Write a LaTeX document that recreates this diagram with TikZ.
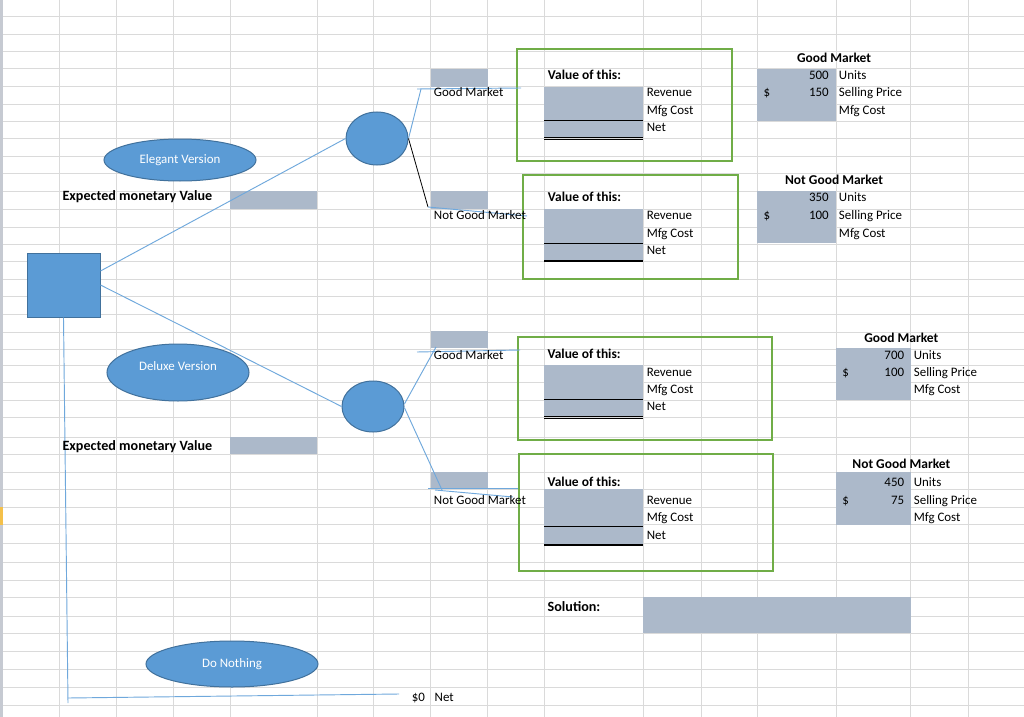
\documentclass[tikz,border=0pt]{standalone}
\usepackage{fontspec}
\setmainfont{Carlito}
\usepackage{xcolor}
\usetikzlibrary{positioning,shapes.geometric}

\definecolor{gridgray}{HTML}{DADADA}
\definecolor{headgray}{HTML}{C6CAD2}
\definecolor{selyellow}{HTML}{F4C04A}
\definecolor{cellgray}{HTML}{ACB9CA}
\definecolor{boxgreen}{HTML}{70AD47}
\definecolor{shapeblue}{HTML}{5B9BD5}
\definecolor{shapeedge}{HTML}{41719C}
\definecolor{lineblue}{HTML}{6FA8DC}

\newcommand{\cellfont}{\fontsize{9.7}{11}\selectfont}
\newcommand{\boldfont}{\fontsize{10.1}{11}\selectfont\bfseries}
\newcommand{\bigboldfont}{\fontsize{10.6}{12}\selectfont\bfseries}

\begin{document}
\begin{tikzpicture}[x=0.75pt,y=-0.75pt,font=\cellfont,
    boxsize/.style 2 args={minimum width=#1*0.75pt,minimum height=#2*0.75pt},
    txt/.style={inner sep=0pt,anchor=base west},
    num/.style={inner sep=0pt,anchor=base east},
    boldtxt/.style={txt,font=\boldfont},
    bigtxt/.style={txt,font=\bigboldfont},
    head/.style={inner sep=0pt,anchor=base,font=\boldfont},
    gridline/.style={draw=gridgray,line width=0.75pt},
    shade/.style={fill=cellgray},
    frame/.style={draw=boxgreen,line width=1.2pt},
    branch/.style={draw=lineblue,line width=0.7pt},
    rule/.style={draw=black,line width=0.6pt},
    decision/.style={rectangle,fill=shapeblue,draw=shapeedge,line width=0.75pt,inner sep=0pt},
    chance/.style={ellipse,fill=shapeblue,draw=shapeedge,line width=0.75pt,inner sep=0pt},
    oval/.style={ellipse,fill=shapeblue,draw=shapeedge,line width=0.75pt,inner sep=0pt,text=white}]

    % Sheet background
    \fill[white] (0,0) rectangle (1024,717);
    \useasboundingbox (0,0) rectangle (1024,717);
    \foreach \gx in {59,116,173,230,317,373,430,487,544,643,701,757,836,910,968}
        \draw[gridline] (\gx,0) -- (\gx,717);
    \foreach \gy in {17,35,52,69,87,104,121,138,156,173,191,209,227,244,261,279,296,314,332,349,365,382,400,417,437,454,472,489,507,524,543,562,580,597,616,633,651,669,687,705}
        \draw[gridline] (0,\gy) -- (1024,\gy);
    \fill[headgray] (0,0) rectangle (3,717);
    \fill[selyellow] (0,507) rectangle (3,525);

    % Shaded cells
    \fill[shade] (431,69) rectangle (488,87);
    \fill[shade] (431,191) rectangle (488,209);
    \fill[shade] (431,331) rectangle (488,348);
    \fill[shade] (431,472) rectangle (488,489);
    \fill[shade] (230,191) rectangle (317,209);
    \fill[shade] (230,437) rectangle (317,454);
    \fill[shade] (544,87) rectangle (643,138);
    \fill[shade] (544,209) rectangle (643,261);
    \fill[shade] (544,365) rectangle (643,417);
    \fill[shade] (544,489) rectangle (643,544);
    \fill[shade] (757,69) rectangle (836,121);
    \fill[shade] (757,191) rectangle (836,243);
    \fill[shade] (836,348) rectangle (911,400);
    \fill[shade] (836,472) rectangle (911,525);
    \fill[shade] (643,597) rectangle (911,633);

    % Underlines of the value blocks
    \draw[rule] (544,120) -- (643,120);
    \draw[rule] (544,137.2) -- (643,137.2);
    \draw[rule] (544,139.4) -- (643,139.4);
    \draw[rule] (544,243) -- (643,243);
    \draw[rule,line width=1.5pt] (544,261) -- (643,261);
    \draw[rule] (544,399) -- (643,399);
    \draw[rule] (544,416.4) -- (643,416.4);
    \draw[rule] (544,418.6) -- (643,418.6);
    \draw[rule] (544,526) -- (643,526);
    \draw[rule,line width=1.5pt] (544,544.5) -- (643,544.5);

    % Green frames
    \draw[frame] (517,49) rectangle (732,161);
    \draw[frame] (523,175) rectangle (738,279);
    \draw[frame] (518,337) rectangle (772,440);
    \draw[frame] (519,454) rectangle (773,571);

    % Tree shapes
    \node[decision,boxsize={73}{64}] (dec) at (63.5,285) {};
    \node[chance,boxsize={62}{53}] (chup) at (377,138.5) {};
    \node[chance,boxsize={62}{51}] (chlow) at (373,406.5) {};
    \node[oval,boxsize={152}{42}] (ovelegant) at (180,160) {Elegant Version};
    \node[oval,boxsize={142}{57},label={[text=white,yshift=4.9pt]center:Deluxe Version}] (ovdeluxe) at (178,372.5) {};
    \node[oval,boxsize={172}{46}] (ovnothing) at (232,664) {Do Nothing};

    % Branch ends
    \coordinate (upgm) at (421,89);
    \coordinate (upgml) at (417,89);
    \coordinate (upgmr) at (521,88);
    \coordinate (upngm) at (428,207);
    \coordinate (upngmr) at (527,216);
    \coordinate (lowgm) at (436,347);
    \coordinate (lowgml) at (417,352);
    \coordinate (lowgmr) at (520,350);
    \coordinate (lowngm) at (442,490);
    \coordinate (lowngml) at (428,488);
    \coordinate (lowngmr) at (518,488);
    \coordinate (lowngmt) at (435,490);
    \coordinate (lowngmu) at (513,497);
    \coordinate (dnfoot) at (68,703);
    \coordinate (dnbend) at (68,698);
    \coordinate (dnend) at (399,694);

    % Branches
    \draw[branch] ([yshift=10.5pt]dec.east) -- (chup.west);
    \draw[branch] (dec.east) -- (chlow.west);
    \draw[branch] (dec.south) -- (dnfoot);
    \draw[branch] (dnbend) -- (dnend);
    \draw[branch] (chup.east) -- (upgm);
    \draw[branch] (upgml) -- (upgmr);
    \draw[black,line width=0.6pt] (chup.east) -- (upngm);
    \draw[branch] (upngm) -- (upngmr);
    \draw[branch] ([yshift=2pt]chlow.east) -- (lowgm);
    \draw[branch] (lowgml) -- (lowgmr);
    \draw[branch] ([yshift=-1pt]chlow.east) -- (lowngm);
    \draw[branch] (lowngml) -- (lowngmr);
    \draw[branch] (lowngmt) -- (lowngmu);

    % Left labels
    \node[bigtxt] (emvup) at (62.3,200.8) {Expected monetary Value};
    \node[bigtxt] (emvlow) at (62.3,450) {Expected monetary Value};
    \node[txt] (zero) at (411.5,701) {\$0};
    \node[txt] (zeronet) at (434.4,701) {Net};

    % Elegant, good market
    \node[txt] (brup1) at (433.7,97) {Good Market};
    \node[boldtxt] (val1) at (547.7,79.3) {Value of this:};
    \node[txt] (rev1) at (646.5,97) {Revenue};
    \node[txt] (mfg1) at (646.5,114) {Mfg Cost};
    \node[txt] (net1) at (646.5,131) {Net};
    \node[head] (mkt1) at (834,62.5) {Good Market};
    \node[num] (units1) at (829,79.3) {500};
    \node[txt] (unitsl1) at (838.7,79.3) {Units};
    \node[txt] (dol1) at (763.3,97) {\$};
    \node[num] (price1) at (829,97) {150};
    \node[txt] (pricel1) at (838.7,97) {Selling Price};
    \node[txt] (mfgl1) at (838.7,114) {Mfg Cost};

    % Elegant, not good market
    \node[txt] (brup2) at (433.7,219.5) {Not Good Market};
    \node[boldtxt] (val2) at (547.7,201) {Value of this:};
    \node[txt] (rev2) at (646.5,219.5) {Revenue};
    \node[txt] (mfg2) at (646.5,237) {Mfg Cost};
    \node[txt] (net2) at (646.5,254) {Net};
    \node[head] (mkt2) at (834,184) {Not Good Market};
    \node[num] (units2) at (829,201) {350};
    \node[txt] (unitsl2) at (838.7,201) {Units};
    \node[txt] (dol2) at (763.3,219.5) {\$};
    \node[num] (price2) at (829,219.5) {100};
    \node[txt] (pricel2) at (838.7,219.5) {Selling Price};
    \node[txt] (mfgl2) at (838.7,237) {Mfg Cost};

    % Deluxe, good market
    \node[txt] (brlow1) at (433.7,359) {Good Market};
    \node[boldtxt] (val3) at (547.3,358.5) {Value of this:};
    \node[txt] (rev3) at (646.5,376) {Revenue};
    \node[txt] (mfg3) at (646.5,393) {Mfg Cost};
    \node[txt] (net3) at (646.5,410) {Net};
    \node[head] (mkt3) at (901.3,342) {Good Market};
    \node[num] (units3) at (904.4,359) {700};
    \node[txt] (unitsl3) at (913.6,359) {Units};
    \node[txt] (dol3) at (842,376) {\$};
    \node[num] (price3) at (904.4,376) {100};
    \node[txt] (pricel3) at (913.6,376) {Selling Price};
    \node[txt] (mfgl3) at (913.6,393) {Mfg Cost};

    % Deluxe, not good market
    \node[txt] (brlow2) at (433.7,504) {Not Good Market};
    \node[boldtxt] (val4) at (547.3,486.5) {Value of this:};
    \node[txt] (rev4) at (646.5,504) {Revenue};
    \node[txt] (mfg4) at (646.5,521.5) {Mfg Cost};
    \node[txt] (net4) at (646.5,539.5) {Net};
    \node[head] (mkt4) at (901.3,468) {Not Good Market};
    \node[num] (units4) at (904.4,486.5) {450};
    \node[txt] (unitsl4) at (913.6,486.5) {Units};
    \node[txt] (dol4) at (842,504) {\$};
    \node[num] (price4) at (904.4,504) {75};
    \node[txt] (pricel4) at (913.6,504) {Selling Price};
    \node[txt] (mfgl4) at (913.6,521.5) {Mfg Cost};

    % Answer
    \node[bigtxt] (sol) at (547.4,611.7) {Solution:};
\end{tikzpicture}
\end{document}
